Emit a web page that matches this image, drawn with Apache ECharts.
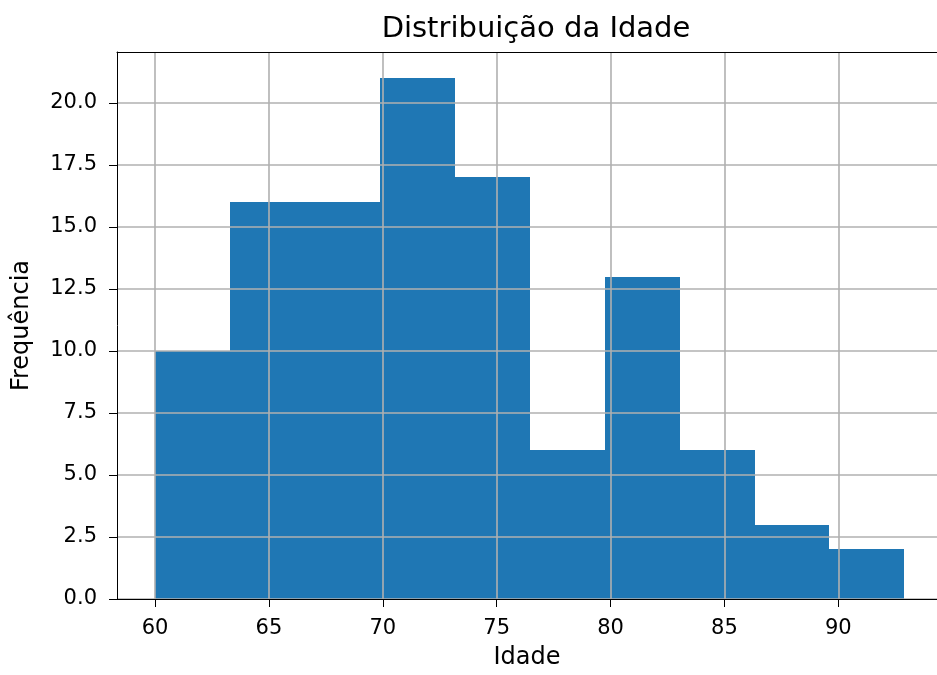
<!DOCTYPE html>
<html>
<head>
<meta charset="utf-8">
<script src="https://cdn.jsdelivr.net/npm/echarts@6/dist/echarts.min.js"></script>
<style>
  html, body { margin: 0; padding: 0; background: #fff; }
  #chart { width: 937px; height: 675px; }
</style>
</head>
<body>
<div id="chart"></div>
<script>
// histogram bins (idade) and their frequencies
const binEdges = [60, 63.29, 66.58, 69.87, 73.16, 76.45, 79.74, 83.03, 86.32, 89.61, 92.9];
const counts = [10, 16, 16, 21, 17, 6, 13, 6, 3, 2];
const xTicks = [60, 65, 70, 75, 80, 85, 90];
const yTicks = [0, 2.5, 5, 7.5, 10, 12.5, 15, 17.5, 20];

const bins = counts.map((c, i) => [binEdges[i], binEdges[i + 1], c]);

// visible x range (the original figure is cut off on the right)
const xMin = 58.33;
const xMax = 94.33;
const yMax = Math.max(...counts) * 1.05;

const font = 'DejaVu Sans';
const myChart = echarts.init(document.getElementById('chart'));

const option = {
    animation: false,
    backgroundColor: '#fff',
    title: {
        text: 'Distribuição da Idade',
        left: 531,
        textAlign: 'center',
        top: 10,
        textStyle: { fontFamily: font, fontSize: 29, fontWeight: 'normal', color: '#000' }
    },
    grid: {
        left: 117,
        top: 52,
        bottom: 72,
        right: 0,
        show: false
    },
    xAxis: [
        {
            type: 'value',
            min: xMin,
            max: xMax,
            z: 10,
            name: 'Idade',
            nameLocation: 'middle',
            nameGap: 47,
            nameTextStyle: { fontFamily: font, fontSize: 24, color: '#000' },
            axisLine: { show: true, lineStyle: { color: '#000', width: 1 } },
            axisTick: { show: true, length: 8, customValues: xTicks, lineStyle: { color: '#000' } },
            axisLabel: {
                customValues: xTicks,
                margin: 19,
                fontFamily: font, fontSize: 21, color: '#000'
            },
            splitLine: { show: true, lineStyle: { color: '#b0b0b0', width: 1.6 } }
        },
        {
            // top spine
            type: 'value',
            position: 'top',
            min: xMin,
            max: xMax,
            z: 10,
            axisLine: { show: true, onZero: false, lineStyle: { color: '#000', width: 1 } },
            axisTick: { show: false },
            axisLabel: { show: false },
            splitLine: { show: false }
        }
    ],
    yAxis: {
        type: 'value',
        min: 0,
        max: yMax,
        z: 10,
        name: 'Frequência',
        nameLocation: 'middle',
        nameGap: 83,
        nameTextStyle: { fontFamily: font, fontSize: 24, color: '#000' },
        axisLine: { show: true, lineStyle: { color: '#000', width: 1 } },
        axisTick: { show: true, length: 8, customValues: yTicks, lineStyle: { color: '#000' } },
        axisLabel: {
            customValues: yTicks,
            margin: 20,
            formatter: v => v.toFixed(1),
            fontFamily: font, fontSize: 21, color: '#000'
        },
        splitLine: { show: true, lineStyle: { color: '#b0b0b0', width: 1.6 } }
    },
    series: [
        {
            type: 'custom',
            xAxisIndex: 0,
            data: bins,
            encode: { x: [0, 1], y: 2 },
            renderItem: (params, api) => {
                const p0 = api.coord([api.value(0), 0]);
                const p1 = api.coord([api.value(1), api.value(2)]);
                // snap edges to whole pixels so adjacent bars leave no seam
                const x0 = Math.round(p0[0]);
                const x1 = Math.round(p1[0]);
                const yTop = Math.round(p1[1]);
                return {
                    type: 'rect',
                    shape: { x: x0, y: yTop, width: x1 - x0, height: p0[1] - yTop },
                    style: { fill: '#1f77b4' }
                };
            }
        }
    ]
};

myChart.setOption(option);
</script>
</body>
</html>
